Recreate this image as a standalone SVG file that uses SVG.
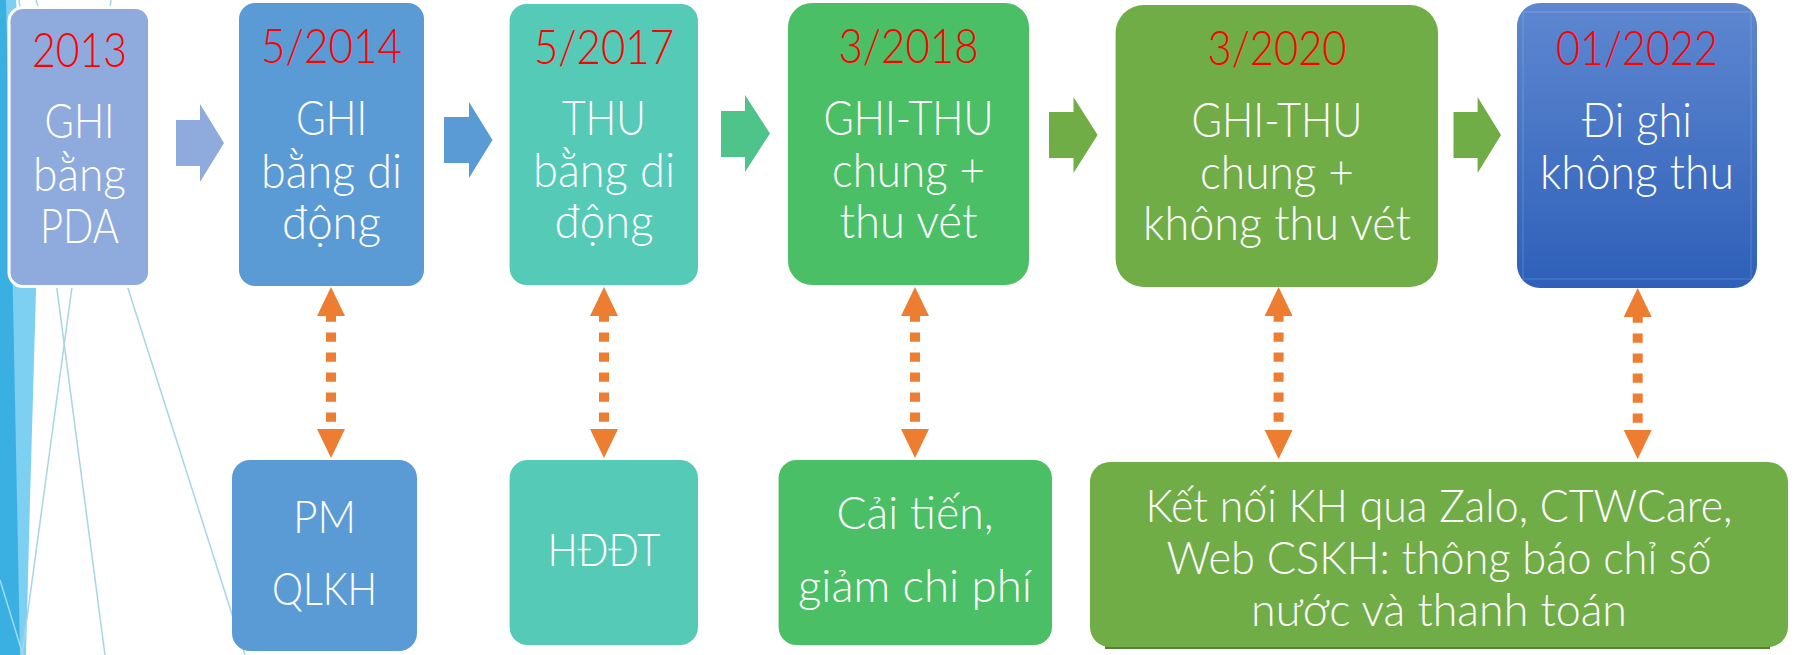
<svg xmlns="http://www.w3.org/2000/svg" width="1796" height="655" viewBox="0 0 1796 655">
<style>
  .t { font-family: Lato, "Open Sans", "Liberation Sans", sans-serif; font-weight: 300; fill: #ffffff; text-anchor: middle; font-size: 47px; }
  .d { fill: #ff0000; }
  .s { font-size: 46px; }
  .k { font-size: 45px; }
  .deco { stroke: #a6d6e6; stroke-width: 1.5; fill: none; }
  .conn { stroke: #ed7d31; stroke-width: 10; stroke-dasharray: 9.3 10.7; stroke-dashoffset: 3.6; fill: none; marker-start: url(#head); marker-end: url(#head); }
</style>
<defs>
  <marker id="head" markerUnits="userSpaceOnUse" markerWidth="30" markerHeight="30" refX="0" refY="14" orient="auto-start-reverse" viewBox="0 0 30 28">
    <path d="M0,0 L29,14 L0,28 Z" fill="#ed7d31"/>
  </marker>
  <linearGradient id="g6" x1="0" y1="0" x2="0" y2="1">
    <stop offset="0" stop-color="#5e87d0"/>
    <stop offset="1" stop-color="#2e60b9"/>
  </linearGradient>
</defs>
<rect width="1796" height="655" fill="#ffffff"/>
<g id="background">
  <polygon points="0,0 16,0 36,290 30,500 26,655 0,655" fill="#7dd0f1"/>
  <polygon points="0,0 6,0 12,250 16,450 20,655 0,655" fill="#3ab0e2"/>
  <line x1="0" y1="580" x2="23" y2="655" stroke="#9fdaf3" stroke-width="1.5"/>
  <line class="deco" x1="111" y1="0" x2="22" y2="655"/>
  <line class="deco" x1="19" y1="0" x2="105" y2="655"/>
  <line class="deco" x1="36" y1="0" x2="245" y2="655"/>
</g>
<g id="connectors">
  <path d="M176,120 H200 V104 L224,143 L200,182 V166 H176 Z" fill="#8faadc"/>
  <path d="M444,117 H469 V102 L492.5,140 L469,178 V163 H444 Z" fill="#5b9bd5"/>
  <path d="M721,111 H745 V95 L770,133.5 L745,172 V157 H721 Z" fill="#4ec48b"/>
  <path d="M1049,112 H1073.5 V97 L1097.6,135 L1073.5,173 V158 H1049 Z" fill="#70ad47"/>
  <path d="M1453.5,112 H1477.6 V97 L1501,135 L1477.6,173 V158 H1453.5 Z" fill="#70ad47"/>
  <line class="conn" x1="331" y1="316" x2="331" y2="429"/>
  <line class="conn" x1="604" y1="316" x2="604" y2="429"/>
  <line class="conn" x1="915" y1="316" x2="915" y2="429"/>
  <line class="conn" x1="1278.6" y1="316" x2="1278.6" y2="430"/>
  <line class="conn" x1="1637.7" y1="317" x2="1637.7" y2="430"/>
</g>
<g id="n2013">
  <rect x="9" y="7.5" width="140.5" height="279" rx="14" fill="#8faadc" stroke="#ffffff" stroke-width="3"/>
  <text class="t d" x="79.5" y="67" textLength="95" lengthAdjust="spacingAndGlyphs">2013</text>
  <text class="t" x="79.5" y="138" textLength="70" lengthAdjust="spacingAndGlyphs">GHI</text>
  <text class="t" x="79.5" y="191" textLength="93" lengthAdjust="spacingAndGlyphs">bằng</text>
  <text class="t" x="79.5" y="243" textLength="79" lengthAdjust="spacingAndGlyphs">PDA</text>
</g>
<g id="n2014">
  <rect x="239" y="3" width="185" height="283" rx="16" fill="#5b9bd5"/>
  <text class="t d" x="331.5" y="63" textLength="141" lengthAdjust="spacingAndGlyphs">5/2014</text>
  <text class="t" x="331.5" y="135" textLength="71" lengthAdjust="spacingAndGlyphs">GHI</text>
  <text class="t" x="331.5" y="188" textLength="141" lengthAdjust="spacingAndGlyphs">bằng di</text>
  <text class="t" x="331.5" y="239" textLength="99" lengthAdjust="spacingAndGlyphs">động</text>
</g>
<g id="n2017">
  <rect x="509.6" y="4" width="188.4" height="281" rx="17" fill="#55cab6"/>
  <text class="t d" x="604" y="64" textLength="140" lengthAdjust="spacingAndGlyphs">5/2017</text>
  <text class="t" x="604" y="135" textLength="84" lengthAdjust="spacingAndGlyphs">THU</text>
  <text class="t" x="604" y="187" textLength="142" lengthAdjust="spacingAndGlyphs">bằng di</text>
  <text class="t" x="604" y="238" textLength="99" lengthAdjust="spacingAndGlyphs">động</text>
</g>
<g id="n2018">
  <rect x="788" y="3" width="241" height="282" rx="24" fill="#4abf66"/>
  <text class="t d" x="908.5" y="63" textLength="140" lengthAdjust="spacingAndGlyphs">3/2018</text>
  <text class="t" x="908.5" y="135" textLength="170" lengthAdjust="spacingAndGlyphs">GHI-THU</text>
  <text class="t" x="908.5" y="187" textLength="153" lengthAdjust="spacingAndGlyphs">chung +</text>
  <text class="t" x="908.5" y="238" textLength="138" lengthAdjust="spacingAndGlyphs">thu vét</text>
</g>
<g id="n2020">
  <rect x="1115.6" y="5" width="322.4" height="282" rx="28" fill="#70ad47"/>
  <text class="t d" x="1277" y="65" textLength="139" lengthAdjust="spacingAndGlyphs">3/2020</text>
  <text class="t" x="1277" y="137" textLength="171" lengthAdjust="spacingAndGlyphs">GHI-THU</text>
  <text class="t" x="1277" y="189" textLength="154" lengthAdjust="spacingAndGlyphs">chung +</text>
  <text class="t" x="1277" y="240" textLength="268" lengthAdjust="spacingAndGlyphs">không thu vét</text>
</g>
<g id="n2022">
  <rect x="1517" y="3" width="240" height="285" rx="23" fill="url(#g6)"/>
  <rect x="1523" y="12" width="228" height="267" fill="none" stroke="#ffffff" stroke-opacity="0.12" stroke-width="1.5"/>
  <text class="t d" x="1637" y="65" textLength="162" lengthAdjust="spacingAndGlyphs">01/2022</text>
  <text class="t" x="1637" y="137" textLength="110" lengthAdjust="spacingAndGlyphs">Đi ghi</text>
  <text class="t" x="1637" y="189" textLength="194" lengthAdjust="spacingAndGlyphs">không thu</text>
</g>
<g id="nPM">
  <rect x="232" y="460" width="185" height="191" rx="18" fill="#5b9bd5"/>
  <text class="t s" x="324.5" y="533" textLength="63" lengthAdjust="spacingAndGlyphs">PM</text>
  <text class="t s" x="324.5" y="605" textLength="105" lengthAdjust="spacingAndGlyphs">QLKH</text>
</g>
<g id="nHDDT">
  <rect x="509.6" y="460" width="188.4" height="185" rx="18" fill="#55cab6"/>
  <text class="t s" x="604" y="566" textLength="113" lengthAdjust="spacingAndGlyphs">HĐĐT</text>
</g>
<g id="nCaiTien">
  <rect x="778.6" y="460" width="273.4" height="185" rx="18" fill="#4abf66"/>
  <text class="t s" x="915" y="529" textLength="157" lengthAdjust="spacingAndGlyphs">Cải tiến,</text>
  <text class="t s" x="915" y="602" textLength="234" lengthAdjust="spacingAndGlyphs">giảm chi phí</text>
</g>
<g id="nKetNoi">
  <rect x="1105" y="645" width="665" height="4" fill="#557f38"/>
  <rect x="1090" y="462" width="698" height="185" rx="20" fill="#70ad47"/>
  <text class="t k" x="1439" y="522" textLength="587" lengthAdjust="spacingAndGlyphs">Kết nối KH qua Zalo, CTWCare,</text>
  <text class="t k" x="1439" y="574" textLength="545" lengthAdjust="spacingAndGlyphs">Web CSKH: thông báo chỉ số</text>
  <text class="t k" x="1439" y="626" textLength="376" lengthAdjust="spacingAndGlyphs">nước và thanh toán</text>
</g>
</svg>
